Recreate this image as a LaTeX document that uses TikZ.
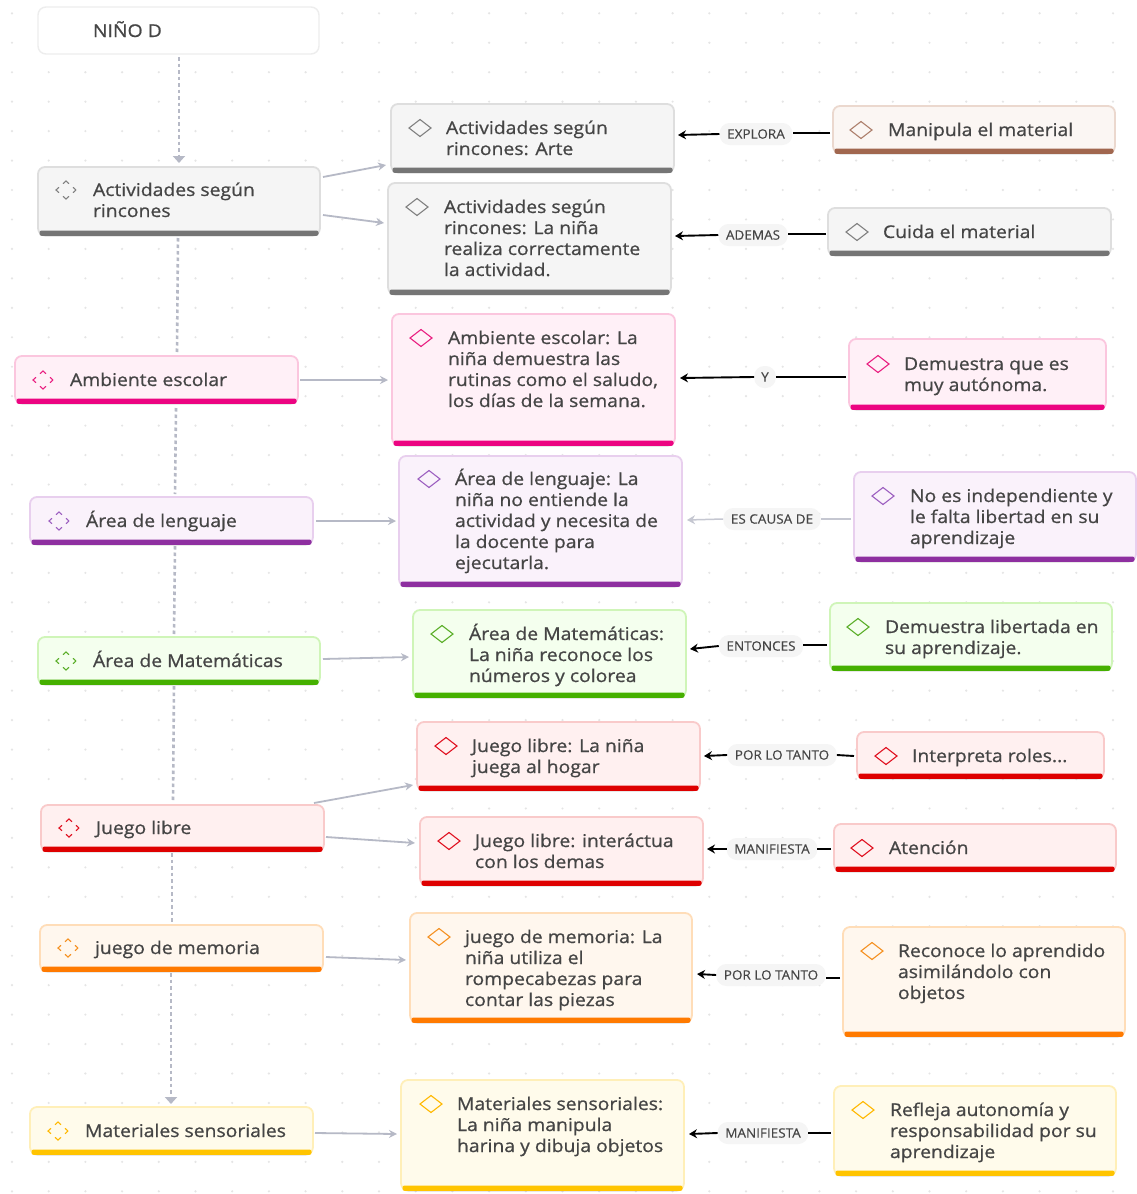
\documentclass[tikz,border=0pt]{standalone}
\usepackage{fontspec}
\setmainfont{Open Sans}[FakeStretch=1.04,FakeBold=0.3]
\newfontfamily\cardfont{Open Sans}[FakeStretch=1.1,FakeBold=0.8]
\usetikzlibrary{arrows.meta,shapes.geometric,shadows}
\definecolor{tx}{HTML}{454545}
% fill / edge / bar / icon
\definecolor{fgray}{HTML}{F5F5F5}\definecolor{egray}{HTML}{DEDEDE}\definecolor{bgray}{HTML}{757575}\definecolor{igray}{HTML}{808080}
\definecolor{fbrown}{HTML}{FBF6F3}\definecolor{ebrown}{HTML}{EBD8CE}\definecolor{bbrown}{HTML}{A1674F}\definecolor{ibrown}{HTML}{AD7F6C}
\definecolor{fpink}{HTML}{FFF0F7}\definecolor{epink}{HTML}{FBC6DE}\definecolor{bpink}{HTML}{EC0481}\definecolor{ipink}{HTML}{E91E80}
\definecolor{fpurple}{HTML}{FAF2FB}\definecolor{epurple}{HTML}{E8CFEE}\definecolor{bpurple}{HTML}{8E2FA0}\definecolor{ipurple}{HTML}{9C5FC0}
\definecolor{fgreen}{HTML}{F4FFEE}\definecolor{egreen}{HTML}{CFF5B8}\definecolor{bgreen}{HTML}{45B000}\definecolor{igreen}{HTML}{5AAE28}
\definecolor{fred}{HTML}{FFF0F0}\definecolor{ered}{HTML}{F9CACA}\definecolor{bred}{HTML}{DE0000}\definecolor{ired}{HTML}{E01020}
\definecolor{forange}{HTML}{FFF7EE}\definecolor{eorange}{HTML}{FFDDB8}\definecolor{borange}{HTML}{FF7A00}\definecolor{iorange}{HTML}{F59020}
\definecolor{fyellow}{HTML}{FFFBEB}\definecolor{eyellow}{HTML}{FFEFB8}\definecolor{byellow}{HTML}{FFC400}\definecolor{iyellow}{HTML}{FFB800}
\definecolor{conn}{HTML}{B6B9C6}
\tikzset{
  x=1pt,y=-1pt,
  cardbox/.style={draw=e#1,fill=f#1,line width=1.8pt,rounded corners=7pt,anchor=north west,inner sep=0pt,outer sep=0pt,drop shadow={shadow xshift=0pt,shadow yshift=-1.5pt,opacity=.14,fill=black}},
  rootbox/.style={draw=black!7,fill=white,line width=1.4pt,rounded corners=8pt,anchor=north west,inner sep=0pt,outer sep=0pt},
  cardtext/.style={anchor=north west,inner sep=0pt,outer sep=0pt,align=left,text=tx,font=\cardfont\fontsize{17.6}{21}\selectfont},
  pill/.style={fill=fgray,rounded corners=10pt,minimum height=22pt,inner xsep=7.5pt,inner ysep=0pt,text=tx,font=\fontsize{13}{15}\selectfont},
  dia/.style={diamond,draw=i#1,line width=1.1pt,minimum width=22pt,minimum height=17pt,inner sep=0pt,outer sep=0pt},
  topicdia/.style={diamond,draw=i#1,line width=1.1pt,minimum width=20pt,minimum height=18pt,inner sep=0pt,outer sep=0pt,dash pattern=on 8pt off 5.45pt,dash phase=4pt},
  graylink/.style={draw=conn,line width=1.8pt,-{Stealth[length=8pt,width=8pt]}},
  rel/.style={draw=black,line width=1.9pt},
  relarrow/.style={rel,-{Stealth[length=8pt,width=9pt]}},
  palerel/.style={draw=conn!80!white,line width=1.5pt},
  palearrow/.style={palerel,-{Stealth[length=8pt,width=9pt]}},
  spine/.style={draw=conn,line width=2.6pt,dash pattern=on 3.5pt off 3pt},
  spinearrow/.style={spine,-{Triangle[length=7pt,width=12pt]}},
}
% \card{name}{x1}{y1}{x2}{y2}{colour}{icon style}{ix}{iy}
\newcommand{\card}[9]{%
  \pgfmathsetmacro{\cw}{#4-#2}\pgfmathsetmacro{\ch}{#5-#3}%
  \node[cardbox=#6,minimum width=\cw pt,minimum height=\ch pt] (#1) at (#2,#3) {};
  \fill[b#6,rounded corners=2pt] ([shift={(1.5,-4.5)}]#1.south west) rectangle ([shift={(-1.5,0.8)}]#1.south east);
  \node[#7=#6] (#1I) at (#8,#9) {};
}
\newcommand{\cardlabel}[4]{\node[cardtext] (#1T) at (#2,#3-12) {\rule{0pt}{18pt}#4};}
\begin{document}
\begin{tikzpicture}
\useasboundingbox (0,0) rectangle (1137,1194);
\fill[white] (0,0) rectangle (1137,1194);
\foreach \i in {0,...,30}{\foreach \j in {0,...,40}{
  \fill[black!10] ({12+36.7*\i},{13.3+29.45*\j}) circle (1.2pt);
}}
% root
\node[rootbox,minimum width=281pt,minimum height=47pt] (root) at (38,7) {};
\cardlabel{root}{93}{31}{NIÑO D}
% cards
\card{act}{38}{167}{320}{235}{gray}{topicdia}{66}{190}\cardlabel{act}{93}{190}{Actividades según\\rincones}
\card{arte}{391}{104}{674}{172}{gray}{dia}{420}{128}\cardlabel{arte}{446}{128}{Actividades según\\rincones: Arte}
\card{nina}{388}{183}{671}{294}{gray}{dia}{417}{207}\cardlabel{nina}{444}{207}{Actividades según\\rincones: La niña\\realiza correctamente\\la actividad.}
\card{manip}{833}{106}{1115}{153}{brown}{dia}{861}{130}\cardlabel{manip}{888}{130}{Manipula el material}
\card{cuida}{828}{208}{1111}{255}{gray}{dia}{857}{232}\cardlabel{cuida}{883}{232}{Cuida el material}
\card{ambL}{15}{356}{298}{403}{pink}{topicdia}{43}{380}\cardlabel{ambL}{70}{380}{Ambiente escolar}
\card{ambM}{392}{314}{675}{445}{pink}{dia}{421}{338}\cardlabel{ambM}{448}{338}{Ambiente escolar: La\\niña demuestra las\\rutinas como el saludo,\\los días de la semana.}
\card{ambR}{849}{339}{1106}{409}{pink}{dia}{878}{364}\cardlabel{ambR}{904}{364}{Demuestra que es\\muy autónoma.}
\card{lenL}{30}{497}{313}{544}{purple}{topicdia}{59}{521}\cardlabel{lenL}{86}{521}{Área de lenguaje}
\card{lenM}{399}{456}{682}{586}{purple}{dia}{429}{479}\cardlabel{lenM}{455}{479}{Área de lenguaje: La\\niña no entiende la\\actividad y necesita de\\la docente para\\ejecutarla.}
\card{lenR}{854}{472}{1136}{561}{purple}{dia}{883}{496}\cardlabel{lenR}{910}{496}{No es independiente y\\le falta libertad en su\\aprendizaje}
\card{matL}{38}{637}{320}{684}{green}{topicdia}{66}{661}\cardlabel{matL}{93}{661}{Área de Matemáticas}
\card{matM}{413}{610}{686}{697}{green}{dia}{442}{634}\cardlabel{matM}{469}{634}{Área de Matemáticas:\\La niña reconoce los\\números y colorea}
\card{matR}{830}{603}{1112}{670}{green}{dia}{858}{627}\cardlabel{matR}{885}{627}{Demuestra libertada en\\su aprendizaje.}
\card{jueL}{41}{805}{324}{851}{red}{topicdia}{69}{828}\cardlabel{jueL}{96}{828}{Juego libre}
\card{jueA}{417}{722}{700}{790}{red}{dia}{446}{746}\cardlabel{jueA}{472}{746}{Juego libre: La niña\\juega al hogar}
\card{inter}{857}{732}{1104}{778}{red}{dia}{886}{756}\cardlabel{inter}{912}{756}{Interpreta roles...}
\card{jueB}{420}{817}{703}{885}{red}{dia}{449}{841}\cardlabel{jueB}{475}{841}{Juego libre: interáctua\\con los demas}
\card{atenc}{834}{824}{1116}{871}{red}{dia}{862}{848}\cardlabel{atenc}{889}{848}{Atención}
\card{memL}{40}{925}{323}{971}{orange}{topicdia}{68}{948}\cardlabel{memL}{95}{948}{juego de memoria}
\card{memM}{410}{913}{692}{1022}{orange}{dia}{439}{937}\cardlabel{memM}{465}{937}{juego de memoria: La\\niña utiliza el\\rompecabezas para\\contar las piezas}
\card{memR}{843}{927}{1125}{1036}{orange}{dia}{872}{951}\cardlabel{memR}{898}{951}{Reconoce lo aprendido\\asimilándolo con\\objetos}
\card{senL}{30}{1107}{313}{1154}{yellow}{topicdia}{58}{1131}\cardlabel{senL}{85}{1131}{Materiales sensoriales}
\card{senM}{401}{1080}{684}{1190}{yellow}{dia}{431}{1104}\cardlabel{senM}{457}{1104}{Materiales sensoriales:\\La niña manipula\\harina y dibuja objetos}
\card{senR}{834}{1086}{1116}{1175}{yellow}{dia}{863}{1110}\cardlabel{senR}{890}{1110}{Refleja autonomía y\\responsabilidad por su\\aprendizaje}
% pills
\node[pill] (p1) at (756,134) {EXPLORA};
\node[pill] (p2) at (753,235) {ADEMAS};
\node[pill,inner xsep=7pt] (p3) at (765,377) {Y};
\node[pill] (p4) at (772,519) {ES CAUSA DE};
\node[pill] (p5) at (761,646) {ENTONCES};
\node[pill] (p6) at (782,755) {POR LO TANTO};
\node[pill] (p7) at (772,849) {MANIFIESTA};
\node[pill] (p8) at (771,975) {POR LO TANTO};
\node[pill] (p9) at (763,1133) {MANIFIESTA};
% spine
\draw[spinearrow] ([shift={(0.5,3)}]root.south) -- ([shift={(0,-4)}]act.north);
\draw[spine] ([shift={(-1,3)}]act.south) -- ([shift={(20.5,-4)}]ambL.north);
\draw[spine] ([shift={(19.5,5)}]ambL.south) -- ([shift={(3.5,-3)}]lenL.north);
\draw[spine] ([shift={(3.5,2)}]lenL.south) -- ([shift={(-5,-2)}]matL.north);
\draw[spine] ([shift={(-5,2)}]matL.south) -- ([shift={(-9.5,-3)}]jueL.north);
\draw[spine] ([shift={(-10.5,2)}]jueL.south) -- ([shift={(-9.5,-2)}]memL.north);
\draw[spinearrow] ([shift={(-10.5,2)}]memL.south) -- ([shift={(-0.5,-3)}]senL.north);
% gray links
\draw[graylink] ([shift={(3,-24)}]act.east) -- ([shift={(-5,27)}]arte.west);
\draw[graylink] ([shift={(3,14)}]act.east) -- ([shift={(-4,-15.5)}]nina.west);
\draw[graylink] ([shift={(2,0.5)}]ambL.east) -- ([shift={(-4,0.5)}]ambM.west);
\draw[graylink] ([shift={(3,0.5)}]lenL.east) -- ([shift={(-3,0)}]lenM.west);
\draw[graylink] ([shift={(3,-1.5)}]matL.east) -- ([shift={(-4,3.5)}]matM.west);
\draw[graylink] ([shift={(-10,-2)}]jueL.north east) -- ([shift={(-4,29)}]jueA.west);
\draw[graylink] ([shift={(2,9)}]jueL.east) -- ([shift={(-5,-8)}]jueB.west);
\draw[graylink] ([shift={(3,9)}]memL.east) -- ([shift={(-4,-7.5)}]memM.west);
\draw[graylink] ([shift={(2,2.5)}]senL.east) -- ([shift={(-4,-1)}]senM.west);
% relations
\draw[rel] ([shift={(-3,3.5)}]manip.west) -- ([shift={(0,-1)}]p1.east);
\draw[relarrow] (p1.west) -- ([shift={(4,-3)}]arte.east);
\draw[rel] ([shift={(-2,2.5)}]cuida.west) -- ([shift={(0,-1)}]p2.east);
\draw[relarrow] (p2.west) -- ([shift={(4,-2.5)}]nina.east);
\draw[rel] ([shift={(-3,3)}]ambR.west) -- (p3.east);
\draw[relarrow] (p3.west) -- ([shift={(5,-1.5)}]ambM.east);
\draw[palerel] ([shift={(-3,2.5)}]lenR.west) -- (p4.east);
\draw[palearrow] (p4.west) -- ([shift={(5,-1)}]lenM.east);
\draw[rel] ([shift={(-3,8.5)}]matR.west) -- ([shift={(0,-1)}]p5.east);
\draw[relarrow] (p5.west) -- ([shift={(4,-4.5)}]matM.east);
\draw[rel] ([shift={(-3,1)}]inter.west) -- (p6.east);
\draw[relarrow] (p6.west) -- ([shift={(4,0)}]jueA.east);
\draw[rel] ([shift={(-3,1.5)}]atenc.west) -- (p7.east);
\draw[relarrow] (p7.west) -- ([shift={(4,-2)}]jueB.east);
\draw[rel] ([shift={(-3,-3.5)}]memR.west) -- ([shift={(0,3)}]p8.east);
\draw[relarrow] (p8.west) -- ([shift={(5,6.5)}]memM.east);
\draw[rel] ([shift={(-3,2.5)}]senR.west) -- (p9.east);
\draw[relarrow] (p9.west) -- ([shift={(5,-1)}]senM.east);
\end{tikzpicture}
\end{document}
